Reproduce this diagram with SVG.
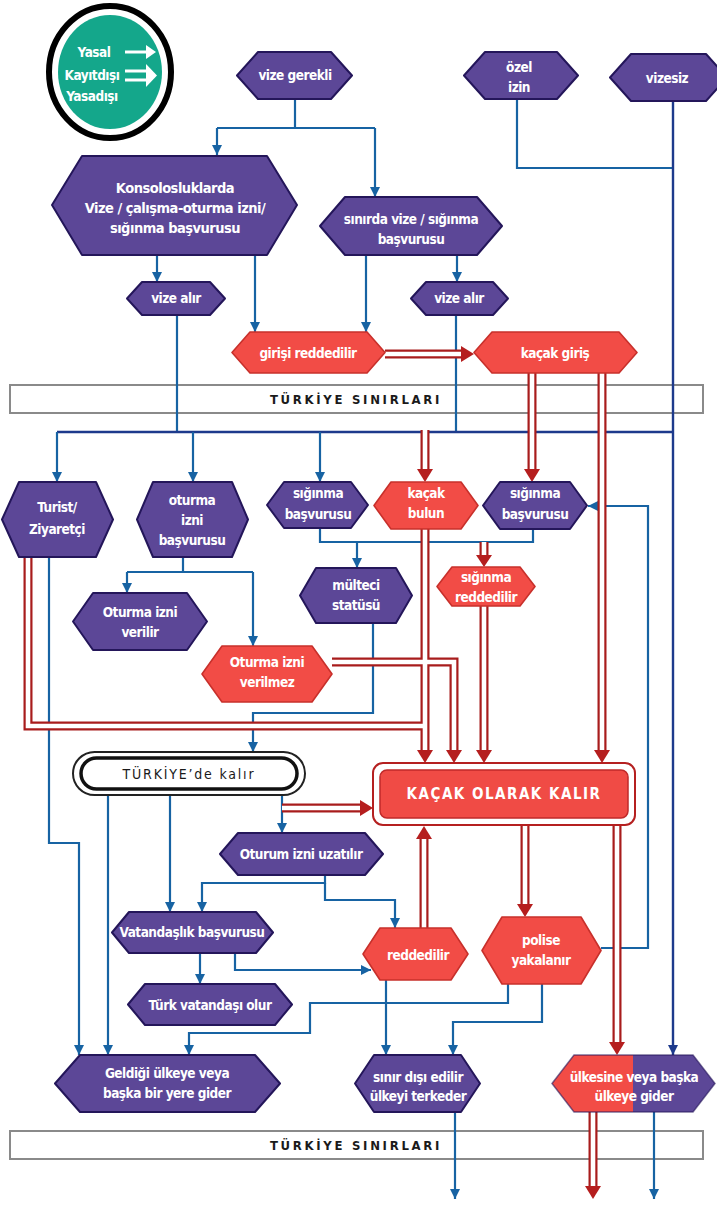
<svg xmlns="http://www.w3.org/2000/svg" width="717" height="1206" viewBox="0 0 717 1206">
<style>
.p{fill:#5c4797;stroke:#24165a;stroke-width:2;stroke-linejoin:round}
.r{fill:#f24c46;stroke:#c8302b;stroke-width:1.6;stroke-linejoin:round}
.t{font-family:"DejaVu Sans Condensed","Liberation Sans Narrow","Roboto",sans-serif;font-weight:bold;font-size:13.5px;letter-spacing:-0.5px;fill:#fff;text-anchor:middle}
.b{fill:none;stroke:#1763a3;stroke-width:2.2}
.bd{fill:none;stroke:#1d3a8c;stroke-width:2.4}
.ro{fill:none;stroke:#a81c1c;stroke-width:9;stroke-linejoin:miter}
.ri{fill:none;stroke:#fff;stroke-width:4.6;stroke-linejoin:miter}
.rh{fill:#b51e1e}
.band{fill:#fff;stroke:#8a8a8a;stroke-width:2}
.bt{font-family:"DejaVu Sans Condensed","Liberation Sans",sans-serif;font-weight:bold;font-size:13px;fill:#1a1a1a;text-anchor:middle;letter-spacing:2.7px}
</style>
<defs>
<marker id="ab" viewBox="0 0 10 10" refX="10" refY="5" markerWidth="11" markerHeight="10" markerUnits="userSpaceOnUse" orient="auto"><path d="M0,0 L10,5 L0,10 z" fill="#1763a3"/></marker>
<marker id="abd" viewBox="0 0 10 10" refX="10" refY="5" markerWidth="11" markerHeight="10" markerUnits="userSpaceOnUse" orient="auto"><path d="M0,0 L10,5 L0,10 z" fill="#1d3a8c"/></marker>
</defs>

<!-- legend -->
<g id="legend">
<ellipse cx="110" cy="72" rx="61" ry="66" fill="#fff" stroke="#000" stroke-width="6"/>
<ellipse cx="110" cy="72" rx="52" ry="57" fill="#14a78b"/>
<text class="t" x="94" y="57">Yasal</text>
<text class="t" x="92" y="80">Kayıtdışı</text>
<text class="t" x="92" y="101">Yasadışı</text>
<path d="M125,52 H148" stroke="#fff" stroke-width="3" fill="none"/>
<path d="M146,45 L156,52 L146,59 z" fill="#fff"/>
<path d="M125,71 H148 M125,80 H148" stroke="#fff" stroke-width="3" fill="none"/>
<path d="M146,64 L157,75.5 L146,87 z" fill="#fff"/>
</g>

<!-- borders -->
<g id="border-top">
<rect class="band" x="10" y="385" width="693" height="28"/>
<text class="bt" x="356" y="404">TÜRKİYE SINIRLARI</text>
</g>
<g id="border-bottom">
<rect class="band" x="10" y="1131" width="693" height="28"/>
<text class="bt" x="356" y="1150">TÜRKİYE SINIRLARI</text>
</g>

<!-- connectors -->
<g id="connectors">
<path class="b" d="M295,99 V128 M217,128 H375"/>
<path class="b" d="M217,128 V155" marker-end="url(#ab)"/>
<path class="b" d="M375,128 V197" marker-end="url(#ab)"/>
<path class="b" d="M517,99 V168 H673"/>
<path class="bd" d="M673,101 V1055" marker-end="url(#abd)"/>
<path class="b" d="M157,255 V282" marker-end="url(#ab)"/>
<path class="b" d="M255,255 V332" marker-end="url(#ab)"/>
<path class="b" d="M366,255 V332" marker-end="url(#ab)"/>
<path class="b" d="M457,255 V282" marker-end="url(#ab)"/>
<path class="b" d="M177,315 V432 M456,315 V432"/>
<path class="bd" d="M57,432 H673"/>
<path class="b" d="M57,432 V482" marker-end="url(#ab)"/>
<path class="b" d="M193,432 V482" marker-end="url(#ab)"/>
<path class="b" d="M320,432 V482" marker-end="url(#ab)"/>
<path class="b" d="M320,528 V542 H533 V529"/>
<path class="b" d="M357,542 V568" marker-end="url(#ab)"/>
<path class="b" d="M183,557 V572 M127,572 H253"/>
<path class="b" d="M127,572 V593" marker-end="url(#ab)"/>
<path class="b" d="M253,572 V646" marker-end="url(#ab)"/>
<path class="b" d="M373,623 V713 H253 V752" marker-end="url(#ab)"/>
<path class="b" d="M49,557 V843 H79 V1055" marker-end="url(#ab)"/>
<path class="b" d="M108,795 V1055" marker-end="url(#ab)"/>
<path class="b" d="M170,795 V912" marker-end="url(#ab)"/>
<path class="b" d="M282,795 V833" marker-end="url(#ab)"/>
<path class="b" d="M325,875 V883 H202 V912" marker-end="url(#ab)"/>
<path class="b" d="M325,883 V900 H395 V928" marker-end="url(#ab)"/>
<path class="b" d="M200,953 V984" marker-end="url(#ab)"/>
<path class="b" d="M235,953 V970 H371" marker-end="url(#ab)"/>
<path class="b" d="M386,980 V1055" marker-end="url(#ab)"/>
<path class="b" d="M601,948 H648 V506 H588" marker-end="url(#ab)"/>
<path class="b" d="M508,984 V1003 H310 V1033 H189 V1055" marker-end="url(#ab)"/>
<path class="b" d="M542,984 V1022 H453 V1055" marker-end="url(#ab)"/>
<path class="b" d="M455,1112 V1199" marker-end="url(#ab)"/>
<path class="b" d="M654,1112 V1199" marker-end="url(#ab)"/>
<g class="ro">
<path d="M385,354 H463"/>
<path d="M532,373 V471"/>
<path d="M602,373 V752"/>
<path d="M425,430 V471"/>
<path d="M425,529 V752"/>
<path d="M28,557 V726 H425"/>
<path d="M332,662 H454 V752"/>
<path d="M484,542 V557"/>
<path d="M484,606 V752"/>
<path d="M282,808 H362"/>
<path d="M424,928 V837"/>
<path d="M525,825 V906"/>
<path d="M617,825 V1044"/>
<path d="M593,1112 V1188"/>
</g>
<g class="ri">
<path d="M385,354 H463"/>
<path d="M532,373 V471"/>
<path d="M602,373 V752"/>
<path d="M425,430 V471"/>
<path d="M425,529 V752"/>
<path d="M28,557 V726 H425"/>
<path d="M332,662 H454 V752"/>
<path d="M484,542 V557"/>
<path d="M484,606 V752"/>
<path d="M282,808 H362"/>
<path d="M424,928 V837"/>
<path d="M525,825 V906"/>
<path d="M617,825 V1044"/>
<path d="M593,1112 V1188"/>
</g>
<g class="rh">
<path d="M461,346 L474,354 L461,362 z"/>
<path d="M524,469 L532,482 L540,469 z"/>
<path d="M594,750 L602,763 L610,750 z"/>
<path d="M417,469 L425,482 L433,469 z"/>
<path d="M417,750 L425,763 L433,750 z"/>
<path d="M446,750 L454,763 L462,750 z"/>
<path d="M476,555 L484,567 L492,555 z"/>
<path d="M476,750 L484,763 L492,750 z"/>
<path d="M360,800 L373,808 L360,816 z"/>
<path d="M416,839 L424,826 L432,839 z"/>
<path d="M517,904 L525,917 L533,904 z"/>
<path d="M609,1042 L617,1055 L625,1042 z"/>
<path d="M585,1186 L593,1199 L601,1186 z"/>
</g>
</g>

<!-- nodes -->
<g id="n-vize-gerekli"><polygon class="p" points="237,75.5 258,52 331,52 352,75.5 331,99 258,99"/><text class="t" x="295" y="80">vize gerekli</text></g>
<g id="n-ozel-izin"><polygon class="p" points="464,75.5 485,52 557,52 578,75.5 557,99 485,99"/><text class="t" x="519" y="72">özel</text><text class="t" x="519" y="92">izin</text></g>
<g id="n-vizesiz"><polygon class="p" points="610,77.5 631,54 706,54 727,77.5 706,101 631,101"/><text class="t" x="667" y="83">vizesiz</text></g>
<g id="n-konsolos"><polygon class="p" points="52,205 82,156 267,156 297,205 267,255 82,255"/><text class="t" x="175" y="193" style="font-size:14.5px">Konsolosluklarda</text><text class="t" x="175" y="213" style="font-size:14.5px">Vize / çalışma-oturma izni/</text><text class="t" x="175" y="233" style="font-size:14.5px">sığınma başvurusu</text></g>
<g id="n-sinirda"><polygon class="p" points="320,226 345,197 477,197 502,226 477,255 345,255"/><text class="t" x="411" y="224">sınırda vize / sığınma</text><text class="t" x="411" y="244">başvurusu</text></g>
<g id="n-vize-alir-1"><polygon class="p" points="127,298.5 142,282 210,282 225,298.5 210,315 142,315"/><text class="t" x="176" y="303">vize alır</text></g>
<g id="n-vize-alir-2"><polygon class="p" points="411,298.5 426,282 493,282 508,298.5 493,315 426,315"/><text class="t" x="459" y="303">vize alır</text></g>
<g id="n-girisi-reddedilir"><polygon class="r" points="232,352.5 250,332 367,332 385,352.5 367,373 250,373"/><text class="t" x="308" y="358">girişi reddedilir</text></g>
<g id="n-kacak-giris"><polygon class="r" points="474,352.5 492,332 619,332 637,352.5 619,373 492,373"/><text class="t" x="555" y="358">kaçak giriş</text></g>
<g id="n-turist"><polygon class="p" points="2,519.5 19,482 96,482 113,519.5 96,557 19,557"/><text class="t" x="57" y="512">Turist/</text><text class="t" x="57" y="534">Ziyaretçi</text></g>
<g id="n-oturma-basvuru"><polygon class="p" points="137,519.5 153,482 232,482 248,519.5 232,557 153,557"/><text class="t" x="192" y="505">oturma</text><text class="t" x="192" y="525">izni</text><text class="t" x="192" y="545">başvurusu</text></g>
<g id="n-siginma-1"><polygon class="p" points="267,505 284,482 351,482 368,505 351,528 284,528"/><text class="t" x="318" y="498">sığınma</text><text class="t" x="318" y="519">başvurusu</text></g>
<g id="n-kacak-bulun"><polygon class="r" points="374,505.5 391,482 461,482 478,505.5 461,529 391,529"/><text class="t" x="426" y="498">kaçak</text><text class="t" x="426" y="518">bulun</text></g>
<g id="n-siginma-2"><polygon class="p" points="483,505.5 500,482 570,482 587,505.5 570,529 500,529"/><text class="t" x="535" y="498">sığınma</text><text class="t" x="535" y="519">başvurusu</text></g>
<g id="n-multeci"><polygon class="p" points="300,595.5 316,568 396,568 412,595.5 396,623 316,623"/><text class="t" x="356" y="590">mülteci</text><text class="t" x="356" y="610">statüsü</text></g>
<g id="n-siginma-red"><polygon class="r" points="437,586.5 452,567 520,567 535,586.5 520,606 452,606"/><text class="t" x="486" y="582">sığınma</text><text class="t" x="486" y="602">reddedilir</text></g>
<g id="n-oturma-verilir"><polygon class="p" points="73,621.5 93,593 187,593 207,621.5 187,650 93,650"/><text class="t" x="140" y="617">Oturma izni</text><text class="t" x="140" y="637">verilir</text></g>
<g id="n-oturma-verilmez"><polygon class="r" points="202,674 222,646 312,646 332,674 312,702 222,702"/><text class="t" x="267" y="667">Oturma izni</text><text class="t" x="267" y="687">verilmez</text></g>
<g id="n-turkiyede-kalir"><rect x="73" y="752" width="232" height="43" rx="21.5" fill="#fff" stroke="#222" stroke-width="2"/><rect x="81" y="758" width="216" height="31" rx="15.5" fill="#fff" stroke="#111" stroke-width="3.5"/><text class="bt" x="189" y="779" style="font-weight:normal;font-size:14px;letter-spacing:1.8px">TÜRKİYE’de kalır</text></g>
<g id="n-kacak-kalir"><rect x="373" y="763" width="262" height="62" rx="10" fill="#fff" stroke="#b52020" stroke-width="2"/><rect x="380" y="770" width="248" height="48" rx="7" fill="#f04b45" stroke="#c02a2a" stroke-width="1.5"/><text class="t" x="504" y="799" style="font-size:15px;letter-spacing:1.5px">KAÇAK OLARAK KALIR</text></g>
<g id="n-oturum-uzatilir"><polygon class="p" points="220,854 238,833 365,833 383,854 365,875 238,875"/><text class="t" x="301" y="859">Oturum izni uzatılır</text></g>
<g id="n-vatandaslik"><polygon class="p" points="112,932.5 129,912 256,912 273,932.5 256,953 129,953"/><text class="t" x="192" y="937">Vatandaşlık başvurusu</text></g>
<g id="n-reddedilir"><polygon class="r" points="363,954 380,928 451,928 468,954 451,980 380,980"/><text class="t" x="418" y="960">reddedilir</text></g>
<g id="n-polise"><polygon class="r" points="482,950.5 502,917 581,917 601,950.5 581,984 502,984"/><text class="t" x="541" y="945">polise</text><text class="t" x="541" y="965">yakalanır</text></g>
<g id="n-turk-vatandasi"><polygon class="p" points="128,1004.5 145,984 275,984 292,1004.5 275,1025 145,1025"/><text class="t" x="210" y="1010">Türk vatandaşı olur</text></g>
<g id="n-geldigi"><polygon class="p" points="55,1083.5 80,1055 255,1055 280,1083.5 255,1112 80,1112"/><text class="t" x="167" y="1078">Geldiği ülkeye veya</text><text class="t" x="167" y="1098">başka bir yere gider</text></g>
<g id="n-sinir-disi"><polygon class="p" points="355,1083.5 374,1055 461,1055 480,1083.5 461,1112 374,1112"/><text class="t" x="418" y="1082">sınır dışı edilir</text><text class="t" x="418" y="1101">ülkeyi terkeder</text></g>
<g id="n-ulkesine"><polygon points="552,1083.5 574,1055 633,1055 633,1112 574,1112" fill="#f24c46"/><polygon points="633,1055 693,1055 715,1083.5 693,1112 633,1112" fill="#5c4797"/><polygon points="552,1083.5 574,1055 693,1055 715,1083.5 693,1112 574,1112" fill="none" stroke="#24165a" stroke-width="1.5" stroke-opacity="0.6"/><text class="t" x="634" y="1082">ülkesine veya başka</text><text class="t" x="634" y="1101">ülkeye gider</text></g>
</svg>
